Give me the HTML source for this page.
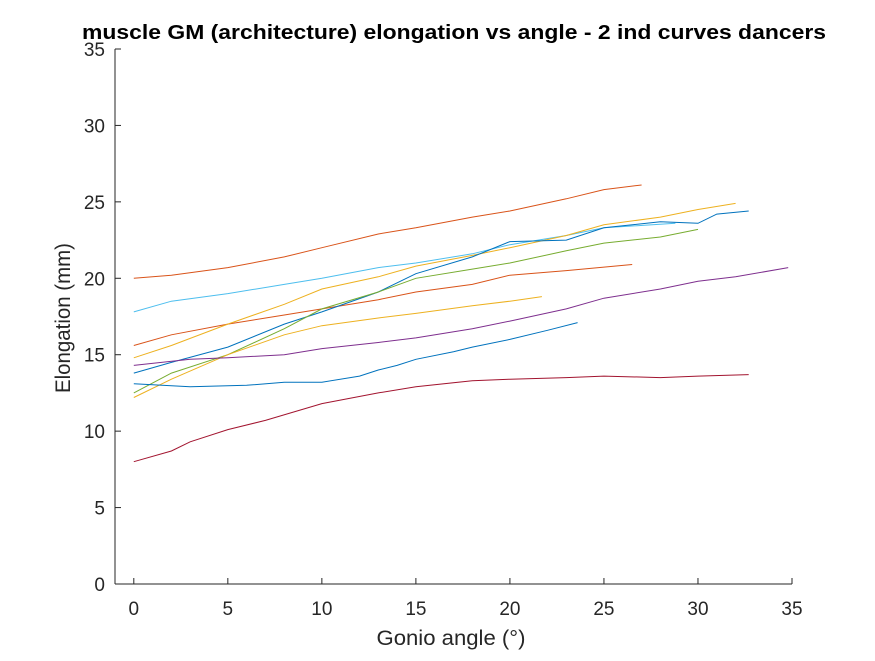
<!DOCTYPE html>
<html><head><meta charset="utf-8"><style>
body{margin:0;background:#fff;}
svg text{font-family:"Liberation Sans",Arial,sans-serif;fill:#262626;}
</style></head><body>
<svg id="chart" width="875" height="656" viewBox="0 0 875 656" xmlns="http://www.w3.org/2000/svg">
<rect width="875" height="656" fill="#fff"/>
<g id="axes"></g><g id="series"></g>
<text x="454" y="39" text-anchor="middle" font-size="20" font-weight="bold" textLength="744" lengthAdjust="spacingAndGlyphs" style="fill:#000">muscle GM (architecture) elongation vs angle - 2 ind curves dancers</text>
<text x="451" y="645" text-anchor="middle" font-size="21" textLength="149" lengthAdjust="spacingAndGlyphs">Gonio angle (°)</text>
<text transform="translate(70,318) rotate(-90)" text-anchor="middle" font-size="21" textLength="150" lengthAdjust="spacingAndGlyphs">Elongation (mm)</text>
</svg>
<script>
const xTicks=[0,5,10,15,20,25,30,35];
const yTicks=[0,5,10,15,20,25,30,35];
const colors=["#D95319","#4DBEEE","#D95319","#EDB120","#0072BD","#77AC30","#EDB120","#7E2F8E","#0072BD","#A2142F"];
const s1x=[0,2,5,8,10,13,15,18,20,23,25,27];const s1y=[20,20.2,20.7,21.4,22,22.9,23.3,24,24.4,25.2,25.8,26.1];
const s2x=[0,2,5,8,10,13,15,18,20,23,25,28.8];const s2y=[17.8,18.5,19,19.6,20,20.7,21,21.6,22.2,22.8,23.3,23.6];
const s3x=[0,2,5,8,10,13,15,18,20,23,26.5];const s3y=[15.6,16.3,17,17.6,18,18.6,19.1,19.6,20.2,20.5,20.9];
const s4x=[0,2,5,8,10,13,15,18,20,23,25,28,30,32];const s4y=[14.8,15.6,17,18.3,19.3,20.1,20.8,21.5,22,22.8,23.5,24,24.5,24.9];
const s5x=[0,2,5,8,10,13,15,18,20,23,25,28,30,31,32.7];const s5y=[13.8,14.5,15.5,17,17.8,19.1,20.3,21.4,22.4,22.5,23.3,23.7,23.6,24.2,24.4];
const s6x=[0,2,5,8,10,13,15,18,20,23,25,28,30];const s6y=[12.5,13.8,15,16.7,18,19.1,20,20.6,21,21.8,22.3,22.7,23.2];
const s7x=[0,2,5,8,10,13,15,18,20,21.7];const s7y=[12.2,13.4,15,16.3,16.9,17.4,17.7,18.2,18.5,18.8];
const s8x=[0,3,5,8,10,13,15,18,20,23,25,28,30,32,34.8];const s8y=[14.3,14.7,14.8,15,15.4,15.8,16.1,16.7,17.2,18,18.7,19.3,19.8,20.1,20.7];
const s9x=[0,3,6,8,10,12,13,14,15,17,18,20,22,23.6];const s9y=[13.1,12.9,13,13.2,13.2,13.6,14,14.3,14.7,15.2,15.5,16,16.6,17.1];
const s10x=[0,2,3,5,7,10,13,15,18,20,23,25,28,30,32.7];const s10y=[8,8.7,9.3,10.1,10.7,11.8,12.5,12.9,13.3,13.4,13.5,13.6,13.5,13.6,13.7];
const seriesX=[s1x,s2x,s3x,s4x,s5x,s6x,s7x,s8x,s9x,s10x];
const seriesY=[s1y,s2y,s3y,s4y,s5y,s6y,s7y,s8y,s9y,s10y];
const X0=115,X1=792,xmin=-1,xmax=35,Y0=584,Y1=49,ymin=0,ymax=35;
function sx(v){return X0+(v-xmin)/(xmax-xmin)*(X1-X0);}
function sy(v){return Y0-(v-ymin)/(ymax-ymin)*(Y0-Y1);}
const NS="http://www.w3.org/2000/svg";
const ax=document.getElementById('axes');
function mk(t,a,p){const e=document.createElementNS(NS,t);for(const k in a)e.setAttribute(k,a[k]);p.appendChild(e);return e;}
let l=mk('line',{x1:X0,y1:Y0,x2:X1,y2:Y0,stroke:'#262626','stroke-width':1},ax);


l=mk('line',{x1:X0,y1:Y0,x2:X0,y2:Y1,stroke:'#262626','stroke-width':1},ax);


xTicks.forEach(v=>{const x=sx(v);mk('line',{x1:x,y1:Y0,x2:x,y2:Y0-6,stroke:'#262626'},ax);
const t=mk('text',{x:x,y:Y0+31,'text-anchor':'middle','font-size':'19'},ax);t.textContent=v;

});
yTicks.forEach(v=>{const y=sy(v);mk('line',{x1:X0,y1:y,x2:X0+6,y2:y,stroke:'#262626'},ax);
const t=mk('text',{x:X0-10,y:y+7,'text-anchor':'end','font-size':'19'},ax);t.textContent=v;

});
const sg=document.getElementById('series');
seriesX.forEach((xs,i)=>{const d=xs.map((x,j)=>(j?'L':'M')+sx(x).toFixed(1)+' '+sy(seriesY[i][j]).toFixed(1)).join(' ');
const p=mk('path',{d:d,fill:'none',stroke:colors[i],'stroke-width':1},sg);

});
</script>
</body></html>
